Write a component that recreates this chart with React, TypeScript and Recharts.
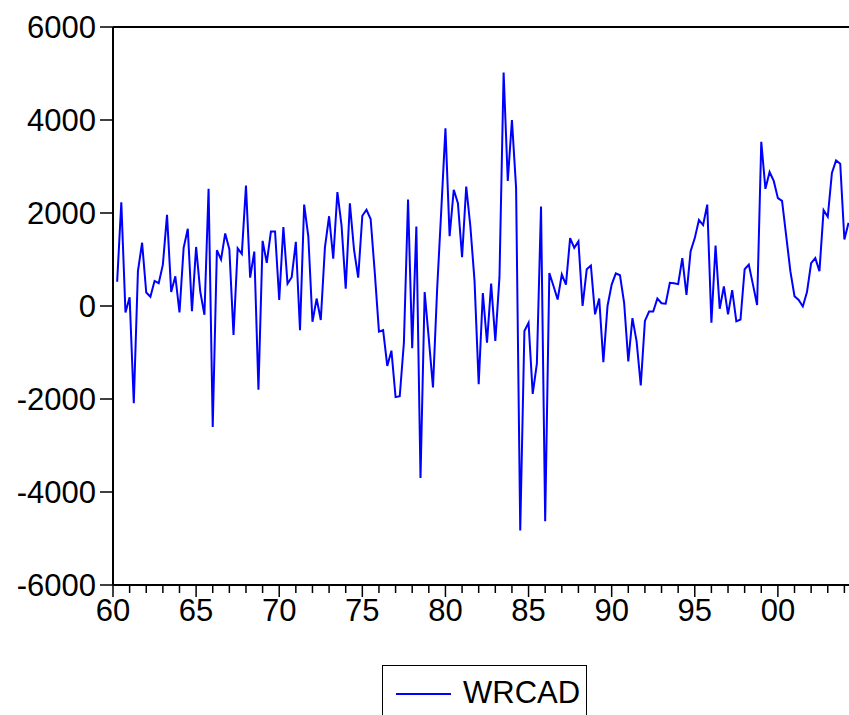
import { Line, LineChart, ReferenceLine, XAxis, YAxis } from "recharts";

// quarterly observations, first one is 1960Q2
const firstObs = 1960.25;
const obsStep = 0.25;

const wrcad = [
  520, 2230, -140, 190, -2090, 750, 1360, 290, 200, 540,
  490, 890, 1960, 300, 640, -140, 1250, 1660, -110, 1270,
  310, -190, 2520, -2600, 1200, 1000, 1560, 1220, -620, 1240,
  1120, 2590, 610, 1170, -1800, 1400, 930, 1600, 1600, 130,
  1700, 480, 620, 1380, -520, 2180, 1500, -340, 160, -300,
  1260, 1930, 1020, 2450, 1730, 370, 2210, 1210, 610, 1940,
  2070, 1870, 710, -550, -520, -1290, -960, -1960, -1940, -790,
  2290, -910, 1710, -3700, 300, -710, -1750, 360, 2070, 3820,
  1500, 2500, 2210, 1050, 2570, 1710, 540, -1680, 280, -790,
  480, -750, 620, 5020, 2690, 4000, 2540, -4830, -540, -360,
  -1890, -1240, 2140, -4630, 710, 430, 140, 680, 460, 1460,
  1250, 1390, 0, 790, 870, -180, 160, -1210, 0, 460,
  700, 660, 70, -1190, -260, -760, -1710, -320, -120, -120,
  160, 60, 50, 500, 490, 470, 1030, 240, 1180, 1460,
  1850, 1740, 2180, -360, 1300, -60, 420, -180, 340, -330,
  -290, 790, 890, 460, 20, 3530, 2520, 2880, 2690, 2320,
  2260, 1510, 750, 210, 130, -10, 300, 920, 1030, 750,
  2060, 1920, 2860, 3130, 3060, 1430, 1790,
];

const yearTicks = [
  1960, 1961, 1962, 1963, 1964, 1965, 1966, 1967, 1968, 1969,
  1970, 1971, 1972, 1973, 1974, 1975, 1976, 1977, 1978, 1979,
  1980, 1981, 1982, 1983, 1984, 1985, 1986, 1987, 1988, 1989,
  1990, 1991, 1992, 1993, 1994, 1995, 1996, 1997, 1998, 1999,
  2000, 2001, 2002, 2003, 2004,
];
const valueTicks = [-6000, -4000, -2000, 0, 2000, 4000, 6000];

const data = wrcad.map((v, i) => ({ t: firstObs + i * obsStep, wrcad: v }));

const font = "Arial, 'Liberation Sans', sans-serif";

function YearTick({ x, y, payload }: any) {
  const yr = payload.value as number;
  const major = yr % 5 === 0;
  return (
    <g>
      <line x1={x} x2={x} y1={y} y2={y + (major ? 12 : 8)} stroke="#000" strokeWidth={1.5} />
      {major && (
        <text x={x} y={y + 36} textAnchor="middle" fontSize={31} fontFamily={font} fill="#000">
          {String(yr % 100).padStart(2, "0")}
        </text>
      )}
    </g>
  );
}

export default function App() {
  return (
    <div
      style={{
        position: "absolute",
        left: 0,
        top: 0,
        width: 849,
        height: 715,
        overflow: "hidden",
        background: "#fff",
        fontFamily: font,
      }}
    >
      <LineChart
        width={900}
        height={715}
        data={data}
        margin={{ top: 27, right: 39, bottom: 70, left: 0 }}
      >
        <XAxis
          dataKey="t"
          type="number"
          domain={[1960, 2005]}
          ticks={yearTicks}
          interval={0}
          height={60}
          tickSize={0}
          tickMargin={0}
          tickLine={false}
          axisLine={{ stroke: "#000", strokeWidth: 2 }}
          tick={<YearTick />}
        />
        <YAxis
          type="number"
          domain={[-6000, 6000]}
          ticks={valueTicks}
          interval={0}
          width={113}
          tickSize={13}
          tickMargin={4}
          tickLine={{ stroke: "#000", strokeWidth: 1.5 }}
          axisLine={{ stroke: "#000", strokeWidth: 2 }}
          tick={{ fill: "#000", fontSize: 31, fontFamily: font }}
        />
        <ReferenceLine y={6000} stroke="#000" strokeWidth={2} />
        <Line
          dataKey="wrcad"
          type="linear"
          stroke="#0000ff"
          strokeWidth={2}
          dot={false}
          isAnimationActive={false}
        />
      </LineChart>
      <div
        style={{
          position: "absolute",
          left: 382,
          top: 665,
          width: 205,
          height: 60,
          border: "1px solid #000",
          boxSizing: "border-box",
        }}
      >
        <div
          style={{
            position: "absolute",
            left: 13,
            top: 27,
            width: 55,
            height: 2,
            background: "#0000ff",
          }}
        />
        <span
          style={{
            position: "absolute",
            left: 80,
            top: 10,
            fontSize: 31,
            lineHeight: "34px",
            color: "#000",
          }}
        >
          WRCAD
        </span>
      </div>
    </div>
  );
}
